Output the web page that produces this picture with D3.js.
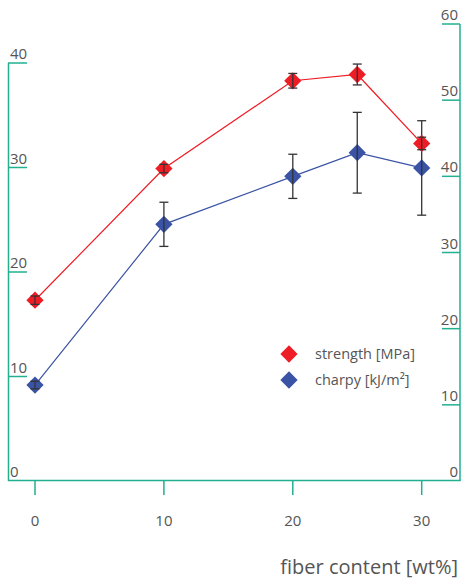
<!DOCTYPE html>
<html>
<head>
<meta charset="utf-8">
<script src="https://cdn.jsdelivr.net/npm/d3@7"></script>
<style>
  body { margin: 0; background: #fff; }
  text { font-family: "Open Sans", sans-serif; fill: #555; }
</style>
</head>
<body>
<svg></svg>
<script>
// fiber content [wt%]
var fiber = [0, 10, 20, 25, 30];
// strength [MPa] (left axis)
var strength = [17.3, 29.9, 38.3, 38.9, 32.3];
var strengthErr = [0.4, 0.4, 0.7, 1.0, 0.6];
// charpy [kJ/m²] (right axis)
var charpy = [12.6, 33.7, 40.0, 43.1, 41.1];
var charpyErr = [0.5, 2.9, 2.9, 5.3, 6.2];

var xTicks = [0, 10, 20, 30];
var leftTicks = [0, 10, 20, 30, 40];
var rightTicks = [0, 10, 20, 30, 40, 50, 60];

var screen = {width: 461, height: 581};
var axisColor = "#22b090";
var red = "#ee1c25";
var blue = "#3a53a4";

var svg = d3.select("svg")
            .attr("width", screen.width)
            .attr("height", screen.height);

var x = d3.scaleLinear().domain([0, 30]).range([35, 421.7]);
var yL = d3.scaleLinear().domain([0, 40]).range([481, 63]);
var yR = d3.scaleLinear().domain([0, 60]).range([481, 24]);

// frame: left axis, bottom axis, right axis
svg.append("line").attr("x1", 8.5).attr("x2", 8.5).attr("y1", yL(40)).attr("y2", 481)
   .attr("stroke", axisColor).attr("stroke-width", 1.5);
svg.append("line").attr("x1", 8).attr("x2", 460.5).attr("y1", 480.5).attr("y2", 480.5)
   .attr("stroke", axisColor).attr("stroke-width", 1.5);
svg.append("line").attr("x1", 460).attr("x2", 460).attr("y1", yR(60)).attr("y2", 481)
   .attr("stroke", axisColor).attr("stroke-width", 1.5);

// left ticks
var lt = svg.append("g").selectAll("g").data(leftTicks).enter().append("g");
lt.filter(function(d){ return d > 0; })
  .append("line")
  .attr("x1", 8).attr("x2", 27)
  .attr("y1", function(d){ return yL(d); }).attr("y2", function(d){ return yL(d); })
  .attr("stroke", axisColor).attr("stroke-width", 1.5);
lt.append("text")
  .attr("x", 10)
  .attr("y", function(d){ return yL(d) - 4; })
  .attr("font-size", 15)
  .text(function(d){ return d; });

// right ticks
var rt = svg.append("g").selectAll("g").data(rightTicks).enter().append("g");
rt.filter(function(d){ return d > 0; })
  .append("line")
  .attr("x1", 442).attr("x2", 460)
  .attr("y1", function(d){ return yR(d); }).attr("y2", function(d){ return yR(d); })
  .attr("stroke", axisColor).attr("stroke-width", 1.5);
rt.append("text")
  .attr("x", 458)
  .attr("y", function(d){ return yR(d) - 4; })
  .attr("text-anchor", "end")
  .attr("font-size", 15)
  .text(function(d){ return d; });

// bottom ticks
var bt = svg.append("g").selectAll("g").data(xTicks).enter().append("g");
bt.append("line")
  .attr("x1", function(d){ return x(d); }).attr("x2", function(d){ return x(d); })
  .attr("y1", 481).attr("y2", 495)
  .attr("stroke", axisColor).attr("stroke-width", 1.5);
bt.append("text")
  .attr("x", function(d){ return x(d); })
  .attr("y", 526)
  .attr("text-anchor", "middle")
  .attr("font-size", 15)
  .text(function(d){ return d; });

svg.append("text")
   .attr("x", 458).attr("y", 574)
   .attr("text-anchor", "end")
   .attr("font-size", 20)
   .text("fiber content [wt%]");

var diamond = d3.symbol().type(d3.symbolDiamond2).size(190);

var drawSeries = function(vals, errs, y, color)
{
  var pts = fiber.map(function(f, i){ return {x: f, v: vals[i], e: errs[i]}; });
  var g = svg.append("g");

  g.append("path")
   .datum(pts)
   .attr("fill", "none")
   .attr("stroke", color)
   .attr("stroke-width", 1.2)
   .attr("d", d3.line().x(function(d){ return x(d.x); }).y(function(d){ return y(d.v); }));

  var eb = g.selectAll(".err").data(pts).enter().append("g");
  eb.append("line")
    .attr("x1", function(d){ return x(d.x); }).attr("x2", function(d){ return x(d.x); })
    .attr("y1", function(d){ return y(d.v + d.e); }).attr("y2", function(d){ return y(d.v - d.e); })
    .attr("stroke", "#333").attr("stroke-width", 1.3);
  [1, -1].forEach(function(s)
  {
    eb.append("line")
      .attr("x1", function(d){ return x(d.x) - 4.5; }).attr("x2", function(d){ return x(d.x) + 4.5; })
      .attr("y1", function(d){ return y(d.v + s * d.e); }).attr("y2", function(d){ return y(d.v + s * d.e); })
      .attr("stroke", "#333").attr("stroke-width", 1.3);
  });

  g.selectAll(".pt").data(pts).enter().append("path")
   .attr("d", diamond)
   .attr("fill", color)
   .attr("transform", function(d){ return "translate(" + x(d.x) + "," + y(d.v) + ")"; });

  // error bar stays visible through the marker, as in the original
  eb.raise();
};

drawSeries(charpy, charpyErr, yR, blue);
drawSeries(strength, strengthErr, yL, red);

// legend
var legend = [{name: "strength [MPa]", color: red, y: 354}, {name: "charpy [kJ/m²]", color: blue, y: 380}];
var lg = svg.append("g").selectAll("g").data(legend).enter().append("g");
lg.append("path")
  .attr("d", diamond)
  .attr("fill", function(d){ return d.color; })
  .attr("transform", function(d){ return "translate(289," + d.y + ")"; });
lg.append("text")
  .attr("x", 315)
  .attr("y", function(d){ return d.y + 5; })
  .attr("font-size", 14.5)
  .text(function(d){ return d.name; });
</script>
</body>
</html>
